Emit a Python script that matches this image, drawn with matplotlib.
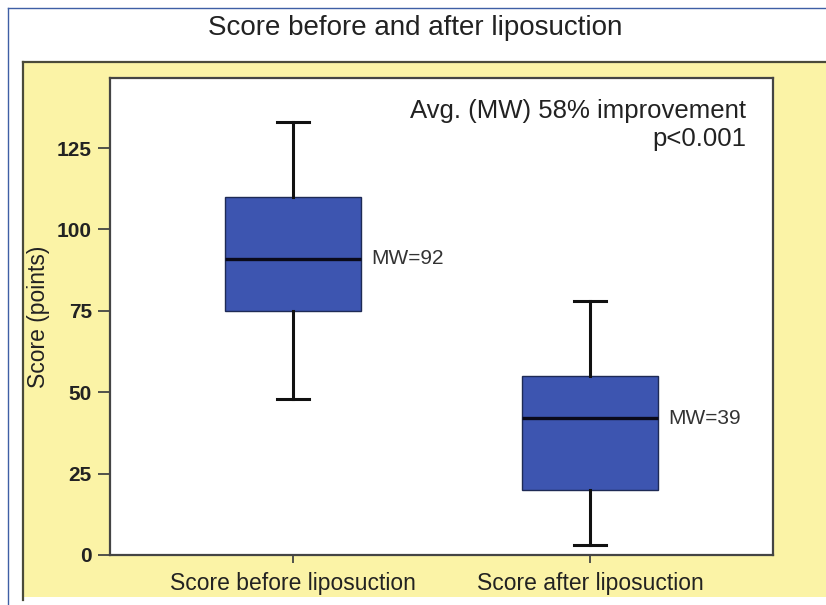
import matplotlib
matplotlib.use("Agg")
import matplotlib.pyplot as plt
from matplotlib.patches import Rectangle
from matplotlib.lines import Line2D

plt.rcParams['font.family'] = ['Liberation Sans', 'DejaVu Sans']

# ---- data ----
categories = ["Score before liposuction", "Score after liposuction"]
whisker_low = [48, 3]
q1_values = [75, 20]
medians = [91, 42]
q3_values = [110, 55]
whisker_high = [133, 78]
mean_labels = ["MW=92", "MW=39"]
y_ticks = [0, 25, 50, 75, 100, 125]
title = "Score before and after liposuction"
y_label = "Score (points)"
note_lines = ["Avg. (MW) 58% improvement", "p<0.001"]

W, H = 826, 605
fig = plt.figure(figsize=(W / 100, H / 100), dpi=100)
fig.patch.set_facecolor("white")

def fx(px):
    return px / W

def fy(py):
    return 1 - py / H

# yellow panel
yellow = "#fbf3a6"
edge_dark = "#4a4a3a"
fig.add_artist(Rectangle((fx(23), fy(597)), fx(W) - fx(23) + 0.01, fy(62) - fy(597),
                         transform=fig.transFigure, facecolor=yellow, edgecolor="none", zorder=0))
fig.add_artist(Line2D([fx(23), fx(23)], [fy(600), fy(62)], transform=fig.transFigure,
                      color=edge_dark, lw=1.6, zorder=1))
fig.add_artist(Line2D([fx(23), fx(W)], [fy(62), fy(62)], transform=fig.transFigure,
                      color=edge_dark, lw=1.6, zorder=1))
# thin blue outer frame lines
blue_line = "#3f5fa5"
fig.add_artist(Line2D([fx(8), fx(8)], [fy(8), 0], transform=fig.transFigure,
                      color=blue_line, lw=1.0, zorder=1))
fig.add_artist(Line2D([fx(8), 1], [fy(8), fy(8)], transform=fig.transFigure,
                      color=blue_line, lw=1.0, zorder=1))

ax = fig.add_axes([fx(110), fy(555), fx(773) - fx(110), fy(78) - fy(555)])
ax.set_facecolor("white")

stats = []
for i in range(len(categories)):
    stats.append(dict(whislo=whisker_low[i], q1=q1_values[i], med=medians[i],
                      q3=q3_values[i], whishi=whisker_high[i], fliers=[], label=categories[i]))

positions = [1, 2]
ax.bxp(stats, positions=positions, widths=0.46, capwidths=0.11, patch_artist=True,
       showfliers=False,
       boxprops=dict(facecolor="#3d55b0", edgecolor="#1e2a55", linewidth=1.0),
       medianprops=dict(color="#0a0a1a", linewidth=2.4),
       whiskerprops=dict(color="#111111", linewidth=2.2),
       capprops=dict(color="#111111", linewidth=2.2))

ax.set_xlim(0.384, 2.616)
ax.set_ylim(0, 146.5)
ax.set_yticks(y_ticks)
ax.set_yticklabels([str(t) for t in y_ticks], fontsize=15, fontweight="bold", color="#222222")
ax.set_xticks(positions)
ax.set_xticklabels(categories, fontsize=16.5, color="#222222")
ax.tick_params(axis="y", length=9, width=1.3, color="#444444", pad=4)
ax.tick_params(axis="x", length=6, width=1.3, color="#444444", pad=6)
ax.set_ylabel(y_label, fontsize=16.5, color="#222222", labelpad=5)

for s in ax.spines.values():
    s.set_color("#444444")
    s.set_linewidth(1.6)

for i, lab in enumerate(mean_labels):
    ax.text(positions[i] + 0.23 + 0.035, medians[i], lab, fontsize=15, color="#333333",
            ha="left", va="center")

ax.text(0.96, 0.955, note_lines[0] + "\n" + note_lines[1], transform=ax.transAxes,
        ha="right", va="top", fontsize=18.5, color="#222222", multialignment="right",
        linespacing=1.2)

fig.text(fx(415), fy(28), title, ha="center", va="center", fontsize=20, color="#222222")

fig.savefig("out.png", dpi=100, facecolor=fig.get_facecolor())
